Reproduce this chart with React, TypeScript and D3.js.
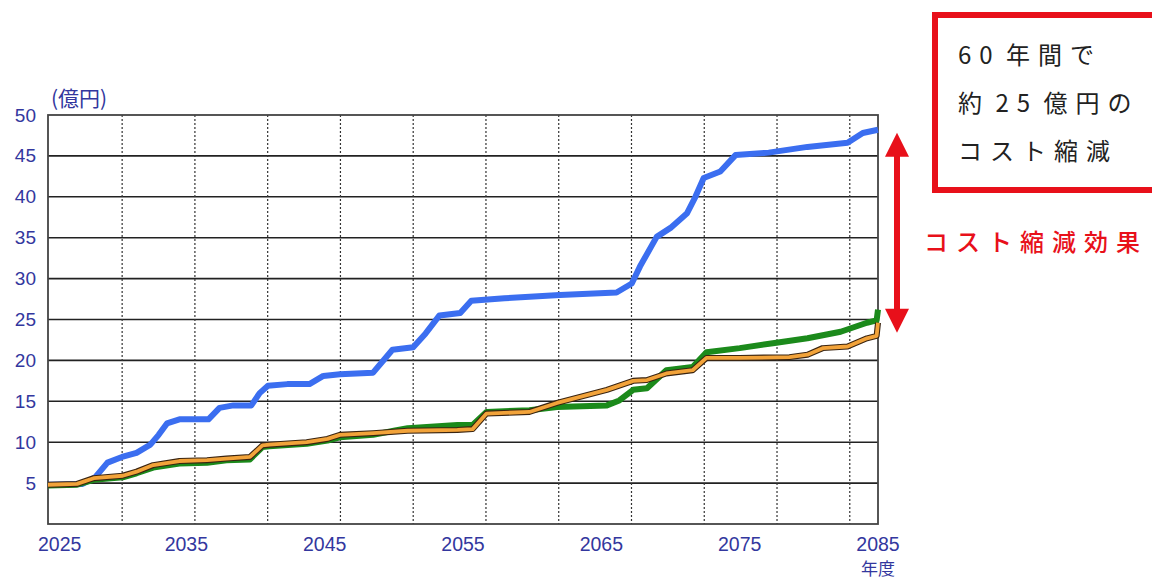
import React from "react";
import * as d3 from "d3";

// ---- data ----
const blueYears = [2025, 2027.5, 2028.4, 2029.3, 2030.35, 2031.4, 2032.4, 2033.0, 2033.6, 2034.5, 2036.6, 2037.4, 2038.4, 2039.7, 2040.3, 2040.9, 2042.3, 2043.9, 2044.9, 2046.1, 2048.5, 2049.9, 2051.4, 2052.3, 2053.3, 2054.8, 2055.6, 2058.0, 2062.0, 2066.1, 2067.2, 2067.8, 2069.0, 2070.0, 2071.2, 2071.8, 2072.4, 2073.6, 2074.7, 2077.1, 2079.9, 2082.8, 2083.9, 2085.0];
const blueValues = [4.8, 4.9, 5.7, 7.5, 8.2, 8.7, 9.7, 10.9, 12.3, 12.8, 12.8, 14.2, 14.5, 14.5, 16.0, 16.9, 17.1, 17.1, 18.1, 18.3, 18.5, 21.3, 21.6, 23.3, 25.5, 25.8, 27.3, 27.6, 28.0, 28.3, 29.4, 31.5, 35.1, 36.2, 38.0, 40.0, 42.3, 43.1, 45.1, 45.4, 46.1, 46.6, 47.8, 48.2];

const greenYears = [2025, 2027.1, 2028.3, 2030.4, 2031.4, 2032.6, 2034.5, 2036.5, 2037.9, 2039.6, 2040.5, 2041.0, 2043.7, 2045.2, 2046.1, 2048.5, 2050.0, 2051.0, 2054.6, 2055.7, 2056.7, 2059.8, 2061.8, 2065.4, 2066.3, 2067.3, 2068.3, 2069.7, 2071.6, 2072.6, 2075.0, 2077.4, 2079.9, 2082.3, 2084.2, 2084.9, 2085.0];
const greenValues = [4.7, 4.8, 5.4, 5.7, 6.2, 6.9, 7.4, 7.5, 7.8, 7.9, 9.4, 9.5, 9.8, 10.2, 10.6, 10.9, 11.4, 11.7, 12.1, 12.1, 13.7, 13.9, 14.3, 14.5, 15.1, 16.4, 16.6, 18.8, 19.2, 21.0, 21.5, 22.1, 22.7, 23.5, 24.6, 24.9, 26.2];

const orangeYears = [2025, 2027.1, 2028.3, 2030.4, 2031.4, 2032.6, 2034.5, 2036.5, 2037.9, 2039.6, 2040.5, 2041.0, 2043.7, 2045.2, 2046.1, 2048.5, 2051.0, 2054.6, 2055.7, 2056.7, 2059.8, 2061.8, 2065.4, 2067.3, 2068.3, 2069.7, 2071.6, 2072.6, 2075.0, 2078.6, 2079.9, 2081.0, 2082.8, 2084.2, 2084.9, 2085.0];
const orangeValues = [4.8, 4.9, 5.6, 5.9, 6.4, 7.2, 7.7, 7.8, 8.0, 8.2, 9.6, 9.7, 10.0, 10.4, 10.9, 11.1, 11.4, 11.5, 11.6, 13.5, 13.7, 14.8, 16.4, 17.5, 17.6, 18.4, 18.8, 20.3, 20.3, 20.4, 20.7, 21.5, 21.7, 22.7, 23.0, 24.6];

const yTicks = [5, 10, 15, 20, 25, 30, 35, 40, 45, 50];
const xTickYears = [2025, 2035, 2045, 2055, 2065, 2075, 2085];
const gridLineCount = 11;
const gridStepYears = 5.26;
const gridOffsetYears = 0.1;

const yUnit = "(億円)";
const xUnit = "年度";
const boxLines = ["60 年間で", "約 25 億円の", "コスト縮減"];
const effectLabel = "コスト縮減効果";

type P = [number, number];
const zip = (xs: number[], ys: number[]): P[] => xs.map((x, i) => [x, ys[i]]);

export default function App() {
  const W = 1152, H = 579;
  const left = 48, right = 878, top = 115, bottom = 524;
  const x = d3.scaleLinear().domain([2025, 2085]).range([left, right]);
  const y = d3.scaleLinear().domain([0, 50]).range([bottom, top]);
  const line = d3.line<P>().x(d => x(d[0])).y(d => y(d[1])).curve(d3.curveLinear);

  const blue = zip(blueYears, blueValues);
  const green = zip(greenYears, greenValues);
  const orange = zip(orangeYears, orangeValues);

  const vGrid = d3.range(1, gridLineCount + 1).map(i => x(2025 + gridOffsetYears + i * gridStepYears));
  const labelColor = "#33379e";
  const red = "#e8101a";
  const arrowX = 897;
  const arrowTop = y(blueValues[blueValues.length - 1]) + 3;
  const arrowBottom = y(orangeValues[orangeValues.length - 2]) - 3;
  const headH = 24, headW = 12;

  return (
    <svg width={W} height={H} style={{ position: "absolute", left: 0, top: 0, background: "#fff" }}
      fontFamily="'Liberation Sans', Arial, sans-serif">
      <rect x={0} y={0} width={W} height={H} fill="#fff" />
      {/* horizontal grid */}
      {yTicks.filter(t => t < 50).map(t => (
        <line key={"h" + t} x1={left} x2={right} y1={y(t)} y2={y(t)} stroke="#222" strokeWidth={1.6} />
      ))}
      {/* vertical dotted grid */}
      {vGrid.map((gx, i) => (
        <line key={"v" + i} x1={gx} x2={gx} y1={top} y2={bottom} stroke="#333" strokeWidth={1.2} strokeDasharray="2,2" />
      ))}
      <rect x={left} y={top} width={right - left} height={bottom - top} fill="none" stroke="#444" strokeWidth={1.8} />

      {/* y tick labels */}
      {yTicks.map(t => (
        <text key={"yl" + t} x={36} y={y(t)} textAnchor="end" dominantBaseline="central" fontSize={19} fill={labelColor}>{t}</text>
      ))}
      <text x={51} y={97} fontSize={21} fill={labelColor} dominantBaseline="central" fontFamily="'Noto Sans CJK JP', sans-serif">{yUnit}</text>

      {/* x tick labels */}
      {xTickYears.map((t, i) => (
        <text key={"xl" + t} x={i === 0 ? x(t) - 10 : x(t)} y={544} textAnchor={i === 0 ? "start" : "middle"}
          dominantBaseline="central" fontSize={19.5} fill={labelColor}>{t}</text>
      ))}
      <text x={x(2085)} y={567} textAnchor="middle" dominantBaseline="central" fontSize={17} fill={labelColor}
        fontFamily="'Noto Sans CJK JP', sans-serif">{xUnit}</text>

      {/* lines */}
      <path d={line(blue) ?? ""} fill="none" stroke="#3b6ef0" strokeWidth={6} strokeLinejoin="round" />
      <path d={line(green) ?? ""} fill="none" stroke="#1b8a1b" strokeWidth={6} strokeLinejoin="round" />
      <path d={line(orange) ?? ""} fill="none" stroke="#3a2410" strokeWidth={6} strokeLinejoin="round" />
      <path d={line(orange) ?? ""} fill="none" stroke="#f2a33a" strokeWidth={3.8} strokeLinejoin="round" />

      {/* red box */}
      <rect x={935} y={15} width={240} height={175} fill="none" stroke={red} strokeWidth={6} />
      {boxLines.map((s, i) => (
        <text key={"b" + i} x={958} y={53 + i * 48} dominantBaseline="central" fontSize={24} letterSpacing={8} wordSpacing={-8}
          fill="#222" fontFamily="'Noto Sans CJK JP', sans-serif" fontWeight={400}>{s}</text>
      ))}

      {/* arrow */}
      <line x1={arrowX} x2={arrowX} y1={arrowTop + headH - 2} y2={arrowBottom - headH + 2} stroke={red} strokeWidth={6} />
      <path d={`M${arrowX},${arrowTop} L${arrowX - headW},${arrowTop + headH} L${arrowX + headW},${arrowTop + headH} Z`} fill={red} />
      <path d={`M${arrowX},${arrowBottom} L${arrowX - headW},${arrowBottom - headH} L${arrowX + headW},${arrowBottom - headH} Z`} fill={red} />
      <text x={924} y={240} dominantBaseline="central" fontSize={24} letterSpacing={8} fill={red}
        fontFamily="'Noto Sans CJK JP', sans-serif" fontWeight={500}>{effectLabel}</text>
    </svg>
  );
}
